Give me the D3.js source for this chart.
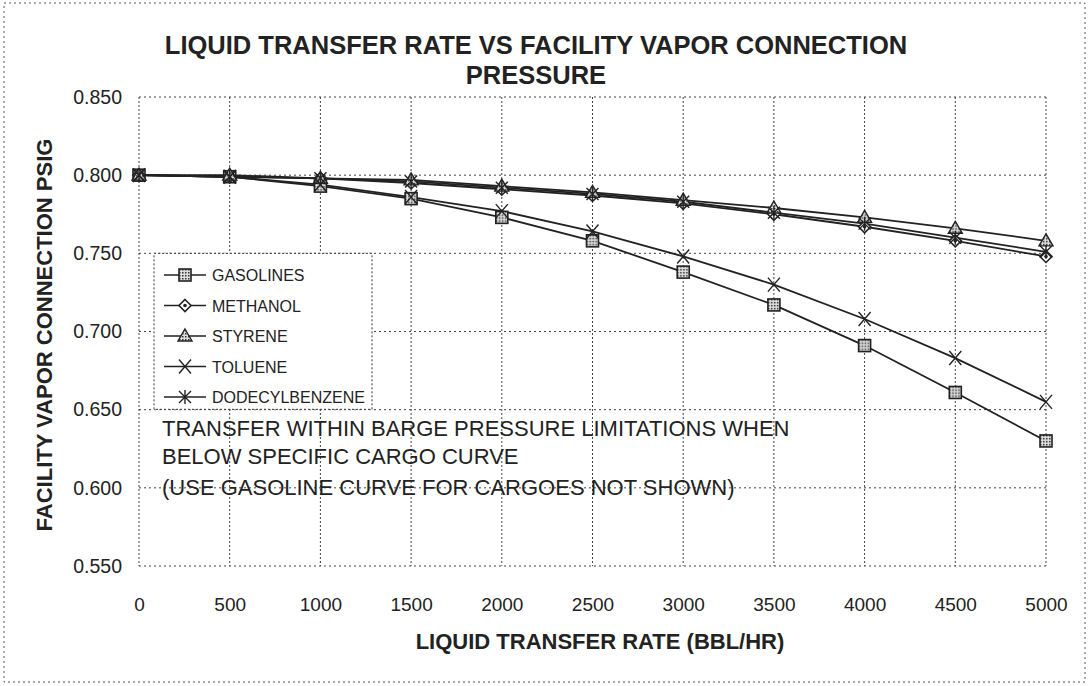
<!DOCTYPE html>
<html><head><meta charset="utf-8">
<script src="https://cdn.jsdelivr.net/npm/d3@7"></script>
<style>body{margin:0;background:#fff}svg{display:block}</style>
</head><body>
<svg id="c" width="1091" height="686"></svg>
<script>
const rates = [0,500,1000,1500,2000,2500,3000,3500,4000,4500,5000];
const gasolines = [0.800,0.799,0.793,0.785,0.773,0.758,0.738,0.717,0.691,0.661,0.630];
const methanol  = [0.800,0.799,0.798,0.795,0.791,0.787,0.782,0.775,0.767,0.758,0.748];
const styrene   = [0.800,0.800,0.798,0.797,0.793,0.789,0.784,0.779,0.773,0.766,0.758];
const toluene   = [0.800,0.799,0.794,0.786,0.777,0.764,0.748,0.730,0.708,0.683,0.655];
const dodecyl   = [0.800,0.799,0.798,0.796,0.792,0.788,0.783,0.776,0.769,0.760,0.751];
const seriesNames = ["GASOLINES","METHANOL","STYRENE","TOLUENE","DODECYLBENZENE"];
const markerTypes = ["square","diamond","triangle","x","star"];
const yTicks = [0.550,0.600,0.650,0.700,0.750,0.800,0.850];
const xTicks = rates;
const titleLines = ["LIQUID TRANSFER RATE VS FACILITY VAPOR CONNECTION","PRESSURE"];
const xTitle = "LIQUID TRANSFER RATE (BBL/HR)";
const yTitle = "FACILITY VAPOR CONNECTION PSIG";
const noteLines = ["TRANSFER WITHIN BARGE PRESSURE LIMITATIONS WHEN","BELOW SPECIFIC CARGO CURVE","(USE GASOLINE CURVE FOR CARGOES NOT SHOWN)"];

const series = [gasolines,methanol,styrene,toluene,dodecyl];
const svg = d3.select("#c");
const FONT = "'Liberation Sans', Arial, sans-serif";
const L=139,R=1046,T=97,B=566;
const x = d3.scaleLinear().domain([0,5000]).range([L,R]);
const y = d3.scaleLinear().domain([0.55,0.85]).range([B,T]);
const ink = "#222";

// hatch pattern for square markers
const defs = svg.append("defs");
const pat = defs.append("pattern").attr("id","hatch").attr("width",3).attr("height",3).attr("patternUnits","userSpaceOnUse");
pat.append("rect").attr("width",3).attr("height",3).attr("fill","#ddd");
pat.append("rect").attr("width",1.5).attr("height",1.5).attr("fill","#333");

// page border (scan edges)
svg.append("rect").attr("x",4).attr("y",3).attr("width",1081).attr("height",679)
  .attr("fill","none").attr("stroke","#555").attr("stroke-width",1).attr("stroke-dasharray","2,3");

// grid
const g = svg.append("g");
g.selectAll(".hg").data(yTicks).join("line")
  .attr("x1",L).attr("x2",R).attr("y1",d=>y(d)).attr("y2",d=>y(d))
  .attr("stroke","#444").attr("stroke-width",1).attr("stroke-dasharray","2,3");
g.selectAll(".vg").data(xTicks).join("line")
  .attr("y1",T).attr("y2",B).attr("x1",d=>x(d)).attr("x2",d=>x(d))
  .attr("stroke","#444").attr("stroke-width",1).attr("stroke-dasharray","2,2");

// axes (labels only)
const yAxis = d3.axisLeft(y).tickValues(yTicks).tickFormat(d3.format(".3f")).tickSize(0).tickPadding(17);
const ya = svg.append("g").attr("transform",`translate(${L},0)`).call(yAxis);
ya.select(".domain").remove();
ya.selectAll("text").attr("font-family",FONT).attr("font-size",19.5).attr("fill",ink);
const xAxis = d3.axisBottom(x).tickValues(xTicks).tickFormat(d3.format("d")).tickSize(0).tickPadding(32);
const xa = svg.append("g").attr("transform",`translate(0,${B})`).call(xAxis);
xa.select(".domain").remove();
xa.selectAll("text").attr("font-family",FONT).attr("font-size",19).attr("fill",ink);

// titles
svg.selectAll(".tt").data(titleLines).join("text")
  .attr("x",536).attr("y",(d,i)=>54+i*30).attr("text-anchor","middle")
  .attr("font-family",FONT).attr("font-weight","bold").attr("font-size",25.5).attr("fill",ink).text(d=>d);
svg.append("text").attr("x",600).attr("y",649).attr("text-anchor","middle")
  .attr("font-family",FONT).attr("font-weight","bold").attr("font-size",22).attr("fill",ink).text(xTitle);
svg.append("text").attr("transform",`translate(52,335) rotate(-90)`).attr("text-anchor","middle")
  .attr("font-family",FONT).attr("font-weight","bold").attr("font-size",22).attr("fill",ink).text(yTitle);

// note
svg.selectAll(".nt").data(noteLines).join("text")
  .attr("x",162).attr("y",(d,i)=>[436,464,495][i])
  .attr("font-family",FONT).attr("font-size",22).attr("fill",ink).text(d=>d);

function drawMarker(sel,type){
  if(type==="square"){
    sel.append("rect").attr("x",-6).attr("y",-6).attr("width",12).attr("height",12)
      .attr("fill","url(#hatch)").attr("stroke",ink).attr("stroke-width",1.6);
  } else if(type==="diamond"){
    sel.append("path").attr("d","M0,-6L6,0L0,6L-6,0Z").attr("fill","#fff").attr("stroke",ink).attr("stroke-width",1.6);
    sel.append("circle").attr("r",1.8).attr("fill",ink);
  } else if(type==="triangle"){
    sel.append("path").attr("d","M0,-7L7,5L-7,5Z").attr("fill","url(#hatch)").attr("stroke",ink).attr("stroke-width",1.4);
  } else if(type==="x"){
    sel.append("path").attr("d","M-6,-7L6,7M6,-7L-6,7").attr("stroke",ink).attr("stroke-width",1.4);
  } else {
    sel.append("path").attr("d","M-6,-6L6,6M6,-6L-6,6M0,-7L0,7").attr("stroke",ink).attr("stroke-width",1.4);
  }
}

const line = d3.line().x((d,i)=>x(rates[i])).y(d=>y(d));
series.forEach((s,k)=>{
  svg.append("path").attr("d",line(s)).attr("fill","none").attr("stroke",ink).attr("stroke-width",1.8);
});
series.forEach((s,k)=>{
  const mg = svg.append("g");
  s.forEach((v,i)=>{
    const m = mg.append("g").attr("transform",`translate(${x(rates[i])},${y(v)})`);
    drawMarker(m,markerTypes[k]);
  });
});

// legend
const lg = svg.append("g");
lg.append("rect").attr("x",154).attr("y",y(0.75)).attr("width",218).attr("height",156)
  .attr("fill","#fff").attr("stroke","#333").attr("stroke-width",1).attr("stroke-dasharray","2,2");
seriesNames.forEach((n,i)=>{
  const cy = 275 + i*30.5;
  lg.append("line").attr("x1",164).attr("x2",206).attr("y1",cy).attr("y2",cy).attr("stroke",ink).attr("stroke-width",1.6);
  const m = lg.append("g").attr("transform",`translate(185,${cy})`);
  drawMarker(m,markerTypes[i]);
  lg.append("text").attr("x",212).attr("y",cy+6).attr("font-family",FONT).attr("font-size",16).attr("fill",ink).text(n);
});
</script>
</body></html>
